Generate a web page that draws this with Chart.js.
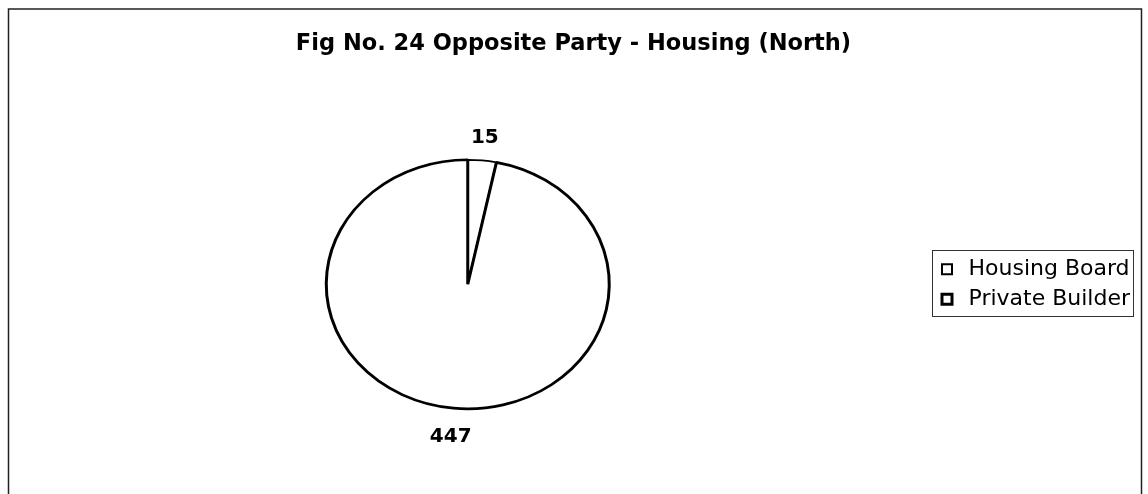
<!DOCTYPE html>
<html>
<head>
<meta charset="utf-8">
<script src="https://cdn.jsdelivr.net/npm/chart.js@4"></script>
<style>
  body { margin: 0; background: #fff; }
</style>
</head>
<body>
<canvas id="myChart" width="1148" height="494"></canvas>
<script>
// Chart data
const chartTitle = 'Fig No. 24 Opposite Party - Housing (North)';
const categories = ['Housing Board', 'Private Builder'];
const counts = [15, 447];

// the scanned pie is squashed vertically
const squash = 0.88;

const ovalPie = {
  id: 'ovalPie',
  beforeDraw(chart) {
    const ctx = chart.ctx;
    ctx.save();
    ctx.fillStyle = '#fff';
    ctx.fillRect(0, 0, chart.width, chart.height);
    // outer frame (no bottom edge in the scan)
    ctx.strokeStyle = '#222';
    ctx.lineWidth = 1.5;
    ctx.beginPath();
    ctx.moveTo(8.5, chart.height);
    ctx.lineTo(8.5, 9);
    ctx.lineTo(1141.5, 9);
    ctx.lineTo(1141.5, chart.height);
    ctx.stroke();
    ctx.restore();
  },
  beforeDatasetsDraw(chart) {
    const arc = chart.getDatasetMeta(0).data[0];
    const ctx = chart.ctx;
    ctx.save();
    ctx.translate(arc.x, arc.y);
    ctx.scale(1, squash);
    ctx.translate(-arc.x, -arc.y);
  },
  afterDatasetsDraw(chart) {
    const ctx = chart.ctx;
    ctx.restore();
    // value labels outside each slice
    const meta = chart.getDatasetMeta(0);
    ctx.save();
    ctx.fillStyle = '#000';
    ctx.textAlign = 'center';
    ctx.textBaseline = 'middle';
    ctx.font = 'bold 20px "DejaVu Sans"';
    meta.data.forEach((arc, i) => {
      const p = arc.getProps(['x', 'y', 'startAngle', 'endAngle', 'outerRadius']);
      const mid = (p.startAngle + p.endAngle) / 2;
      const off = 26;
      const lx = p.x + Math.cos(mid) * (p.outerRadius + off);
      const ly = p.y + Math.sin(mid) * (p.outerRadius * squash + off) + 3;
      ctx.fillText(String(counts[i]), lx, ly);
    });
    ctx.restore();
  },
  afterDraw(chart) {
    // box round the legend
    const boxes = chart.legend.legendHitBoxes;
    if (!boxes || !boxes.length) return;
    const left = Math.min(...boxes.map(b => b.left)) - 5;
    const right = Math.max(...boxes.map(b => b.left + b.width)) + 3;
    const top = Math.min(...boxes.map(b => b.top)) - 8;
    const bottom = Math.max(...boxes.map(b => b.top + b.height)) + 6;
    const ctx = chart.ctx;
    ctx.save();
    ctx.strokeStyle = '#333';
    ctx.lineWidth = 1;
    ctx.strokeRect(Math.round(left) + 0.5, Math.round(top) + 0.5, Math.round(right - left), Math.round(bottom - top));
    ctx.restore();
  }
};

const ctx = document.getElementById('myChart').getContext('2d');

new Chart(ctx, {
  type: 'pie',
  data: {
    labels: categories,
    datasets: [{
      data: counts,
      backgroundColor: ['#ffffff', '#ffffff'],
      borderColor: '#000',
      borderWidth: [2, 3],
      radius: 141.5
    }]
  },
  options: {
    responsive: false,
    animation: false,
    devicePixelRatio: 1,
    layout: { padding: { left: 7, right: 8, top: 9, bottom: 0 } },
    plugins: {
      title: {
        display: true,
        text: chartTitle,
        color: '#000',
        font: { family: '"DejaVu Sans"', size: 22.5, weight: 'bold' },
        padding: { top: 22, bottom: 16.6 }
      },
      legend: {
        position: 'right',
        fullSize: false,
        labels: {
          color: '#000',
          font: { family: '"DejaVu Sans"', size: 22 },
          usePointStyle: true,
          pointStyle: 'rect',
          boxWidth: 21,
          boxHeight: 10,
          padding: 8
        }
      },
      tooltip: { enabled: false }
    }
  },
  plugins: [ovalPie]
});
</script>
</body>
</html>
